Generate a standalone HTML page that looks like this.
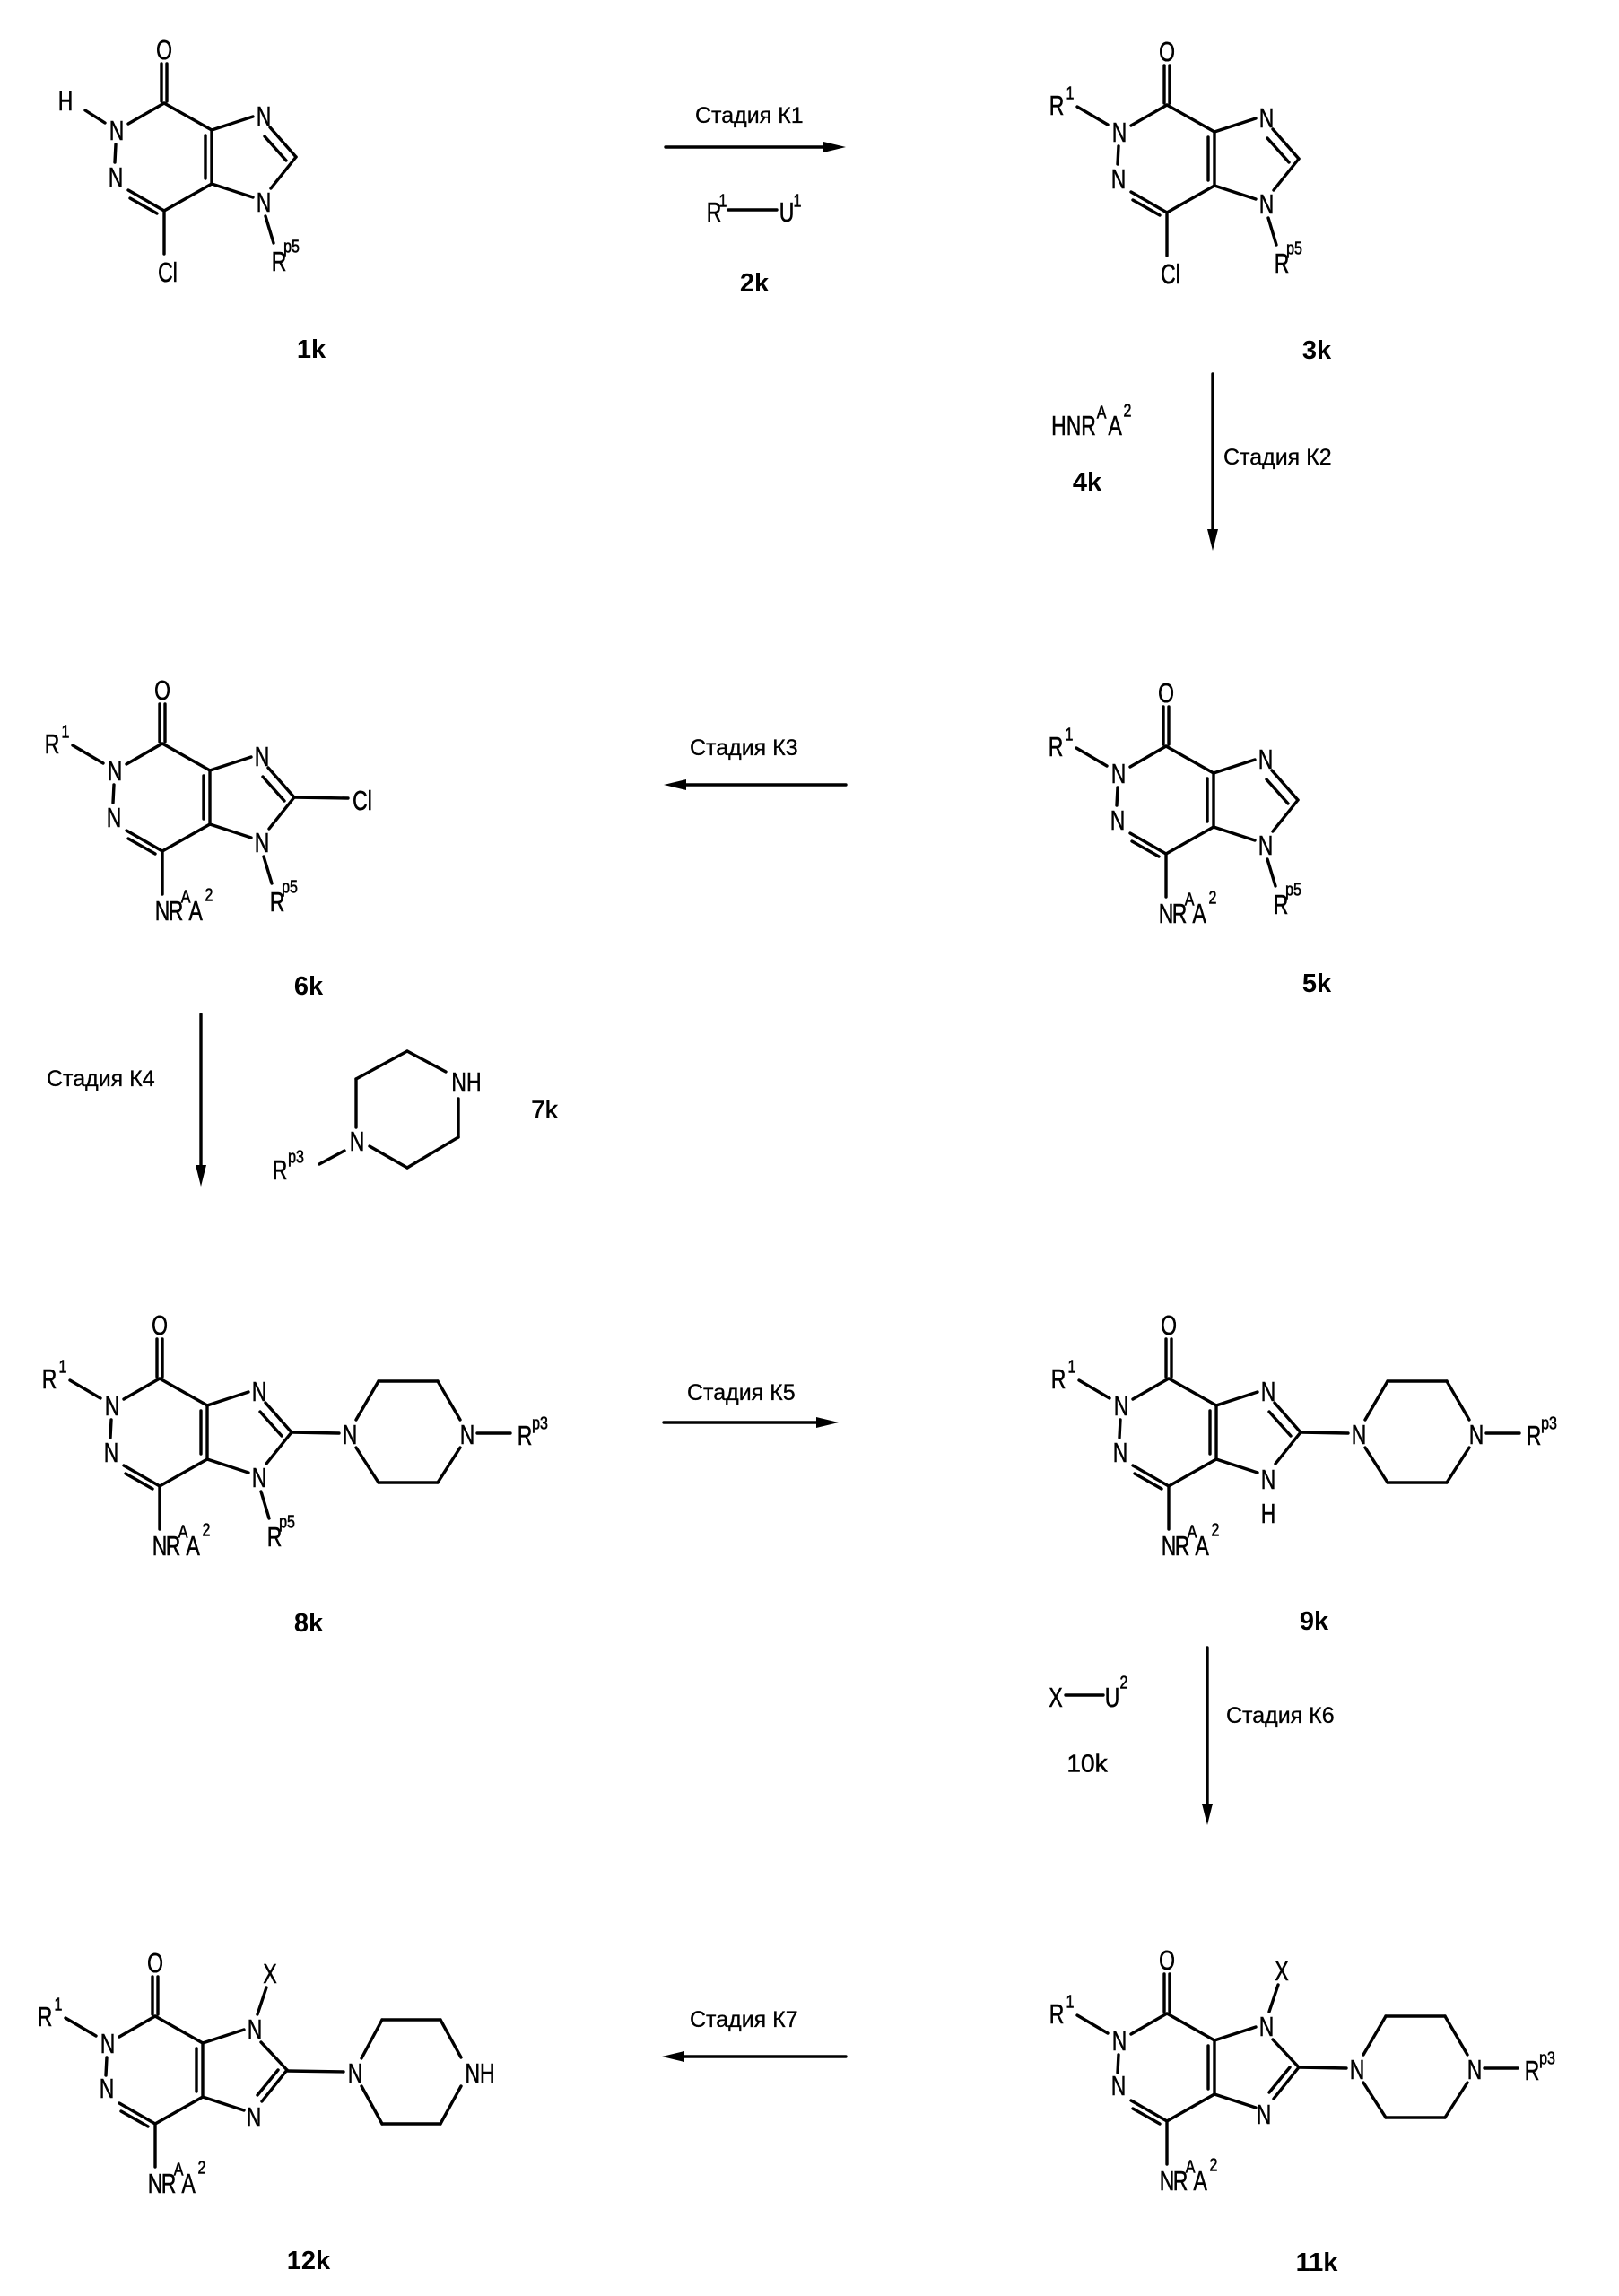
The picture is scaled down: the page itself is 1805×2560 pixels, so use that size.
<!DOCTYPE html>
<html><head><meta charset="utf-8"><style>
html,body{margin:0;padding:0;background:#fff;}
svg{display:block;}
text{font-family:"Liberation Sans",sans-serif;fill:#000;stroke:#000;stroke-width:0.6px;}
.a{font-size:31px;dominant-baseline:central;text-anchor:middle;transform-box:fill-box;transform-origin:center;transform:scaleX(0.74);}
.s{font-size:20px;dominant-baseline:central;text-anchor:middle;transform-box:fill-box;transform-origin:center;transform:scaleX(0.8);}
.lab{font-size:29px;font-weight:bold;dominant-baseline:central;text-anchor:middle;stroke-width:0;}
.reg{font-size:28px;dominant-baseline:central;text-anchor:middle;}
.st{font-size:25px;dominant-baseline:central;text-anchor:start;stroke-width:0.3px;}
line,polyline,path{stroke:#000;stroke-width:3.4;fill:none;stroke-linecap:round;}
.ah{fill:#000;stroke:none;}
</style></head><body>
<svg width="1805" height="2560" viewBox="0 0 1805 2560" xmlns="http://www.w3.org/2000/svg">

<!-- ============ 1k ============ -->
<g transform="translate(183,115)">
<text class="a" x="0" y="-60">O</text>
<line x1="-3" y1="-2" x2="-3" y2="-44"/><line x1="3" y1="-2" x2="3" y2="-44"/>
<line x1="0" y1="0" x2="-40" y2="23"/>
<text class="a" x="-53" y="30">N</text>
<line x1="-54" y1="46" x2="-55" y2="66"/>
<text class="a" x="-54" y="82">N</text>
<line x1="-40" y1="97" x2="0" y2="120"/><line x1="-38" y1="106" x2="-8" y2="123"/>
<line x1="0" y1="120" x2="53" y2="90"/>
<line x1="53" y1="90" x2="53" y2="30"/><line x1="46" y1="84" x2="46" y2="36"/>
<line x1="53" y1="30" x2="0" y2="0"/>
<line x1="53" y1="30" x2="99" y2="15"/>
<line x1="53" y1="90" x2="99" y2="105"/>
<text class="a" x="111" y="14">N</text>
<text class="a" x="111" y="110">N</text>
<line x1="118" y1="27" x2="147" y2="60"/><line x1="112" y1="37" x2="136" y2="64"/>
<line x1="147" y1="60" x2="119" y2="95"/>
<line x1="113" y1="126" x2="122" y2="156"/>
<text class="a" x="128" y="176">R</text><text class="s" x="142" y="160">p5</text>
<line x1="0" y1="120" x2="0" y2="168"/>
<text class="a" x="4" y="188">Cl</text>
<line x1="-66" y1="22" x2="-88" y2="8"/>
<text class="a" x="-110" y="-3">H</text>
</g>
<text class="lab" x="347" y="390">1k</text>

<!-- K1 -->
<text class="st" x="775" y="129">Стадия К1</text>
<line x1="742" y1="164" x2="925" y2="164"/>
<path class="ah" d="M943,164 L918,158 L918,170 Z"/>
<text class="a" x="796" y="236">R</text><text class="s" x="806" y="224">1</text>
<line x1="812" y1="234" x2="866" y2="234"/>
<text class="a" x="877" y="236">U</text><text class="s" x="889" y="224">1</text>
<text class="lab" x="841" y="316">2k</text>

<!-- ============ 3k ============ -->
<g transform="translate(1301,117)">
<text class="a" x="0" y="-60">O</text>
<line x1="-3" y1="-2" x2="-3" y2="-44"/><line x1="3" y1="-2" x2="3" y2="-44"/>
<line x1="0" y1="0" x2="-40" y2="23"/>
<text class="a" x="-53" y="30">N</text>
<line x1="-54" y1="46" x2="-55" y2="66"/>
<text class="a" x="-54" y="82">N</text>
<line x1="-40" y1="97" x2="0" y2="120"/><line x1="-38" y1="106" x2="-8" y2="123"/>
<line x1="0" y1="120" x2="53" y2="90"/>
<line x1="53" y1="90" x2="53" y2="30"/><line x1="46" y1="84" x2="46" y2="36"/>
<line x1="53" y1="30" x2="0" y2="0"/>
<line x1="53" y1="30" x2="99" y2="15"/>
<line x1="53" y1="90" x2="99" y2="105"/>
<text class="a" x="111" y="14">N</text>
<text class="a" x="111" y="110">N</text>
<line x1="118" y1="27" x2="147" y2="60"/><line x1="112" y1="37" x2="136" y2="64"/>
<line x1="147" y1="60" x2="119" y2="95"/>
<line x1="113" y1="126" x2="122" y2="156"/>
<text class="a" x="128" y="176">R</text><text class="s" x="142" y="160">p5</text>
<line x1="0" y1="120" x2="0" y2="168"/>
<text class="a" x="4" y="188">Cl</text>
<line x1="-66" y1="22" x2="-100" y2="2"/>
<text class="a" x="-123" y="0">R</text><text class="s" x="-108" y="-13">1</text>
</g>
<text class="lab" x="1468" y="391">3k</text>

<!-- K2 -->
<line x1="1352" y1="417" x2="1352" y2="595"/>
<path class="ah" d="M1352,614 L1346,590 L1358,590 Z"/>
<text class="st" x="1364" y="510">Стадия К2</text>
<text class="a" x="1197" y="474">HNR</text><text class="s" x="1228" y="460">A</text>
<text class="a" x="1243" y="474">A</text><text class="s" x="1257" y="458">2</text>
<text class="lab" x="1212" y="538">4k</text>

<!-- ============ 5k ============ -->
<g transform="translate(1300,832)">
<text class="a" x="0" y="-60">O</text>
<line x1="-3" y1="-2" x2="-3" y2="-44"/><line x1="3" y1="-2" x2="3" y2="-44"/>
<line x1="0" y1="0" x2="-40" y2="23"/>
<text class="a" x="-53" y="30">N</text>
<line x1="-54" y1="46" x2="-55" y2="66"/>
<text class="a" x="-54" y="82">N</text>
<line x1="-40" y1="97" x2="0" y2="120"/><line x1="-38" y1="106" x2="-8" y2="123"/>
<line x1="0" y1="120" x2="53" y2="90"/>
<line x1="53" y1="90" x2="53" y2="30"/><line x1="46" y1="84" x2="46" y2="36"/>
<line x1="53" y1="30" x2="0" y2="0"/>
<line x1="53" y1="30" x2="99" y2="15"/>
<line x1="53" y1="90" x2="99" y2="105"/>
<text class="a" x="111" y="14">N</text>
<text class="a" x="111" y="110">N</text>
<line x1="118" y1="27" x2="147" y2="60"/><line x1="112" y1="37" x2="136" y2="64"/>
<line x1="147" y1="60" x2="119" y2="95"/>
<line x1="113" y1="126" x2="122" y2="156"/>
<text class="a" x="128" y="176">R</text><text class="s" x="142" y="160">p5</text>
<line x1="0" y1="120" x2="0" y2="168"/>
<text class="a" x="0" y="186">N</text><text class="a" x="15" y="186">R</text><text class="s" x="26" y="171">A</text>
<text class="a" x="37" y="186">A</text><text class="s" x="52" y="169">2</text>
<line x1="-66" y1="22" x2="-100" y2="2"/>
<text class="a" x="-123" y="0">R</text><text class="s" x="-108" y="-13">1</text>
</g>
<text class="lab" x="1468" y="1097">5k</text>

<!-- K3 -->
<text class="st" x="769" y="834">Стадия К3</text>
<line x1="760" y1="875" x2="943" y2="875"/>
<path class="ah" d="M740,875 L765,869 L765,881 Z"/>

<!-- ============ 6k ============ -->
<g transform="translate(181,829)">
<text class="a" x="0" y="-60">O</text>
<line x1="-3" y1="-2" x2="-3" y2="-44"/><line x1="3" y1="-2" x2="3" y2="-44"/>
<line x1="0" y1="0" x2="-40" y2="23"/>
<text class="a" x="-53" y="30">N</text>
<line x1="-54" y1="46" x2="-55" y2="66"/>
<text class="a" x="-54" y="82">N</text>
<line x1="-40" y1="97" x2="0" y2="120"/><line x1="-38" y1="106" x2="-8" y2="123"/>
<line x1="0" y1="120" x2="53" y2="90"/>
<line x1="53" y1="90" x2="53" y2="30"/><line x1="46" y1="84" x2="46" y2="36"/>
<line x1="53" y1="30" x2="0" y2="0"/>
<line x1="53" y1="30" x2="99" y2="15"/>
<line x1="53" y1="90" x2="99" y2="105"/>
<text class="a" x="111" y="14">N</text>
<text class="a" x="111" y="110">N</text>
<line x1="118" y1="27" x2="147" y2="60"/><line x1="112" y1="37" x2="136" y2="64"/>
<line x1="147" y1="60" x2="119" y2="95"/>
<line x1="113" y1="126" x2="122" y2="156"/>
<text class="a" x="128" y="176">R</text><text class="s" x="142" y="160">p5</text>
<line x1="0" y1="120" x2="0" y2="168"/>
<text class="a" x="0" y="186">N</text><text class="a" x="15" y="186">R</text><text class="s" x="26" y="171">A</text>
<text class="a" x="37" y="186">A</text><text class="s" x="52" y="169">2</text>
<line x1="-66" y1="22" x2="-100" y2="2"/>
<text class="a" x="-123" y="0">R</text><text class="s" x="-108" y="-13">1</text>
<line x1="147" y1="60" x2="207" y2="61"/>
<text class="a" x="223" y="63">Cl</text>
</g>
<text class="lab" x="344" y="1100">6k</text>

<!-- K4 -->
<line x1="224" y1="1131" x2="224" y2="1304"/>
<path class="ah" d="M224,1323 L218,1299 L230,1299 Z"/>
<text class="st" x="52" y="1203">Стадия К4</text>

<!-- 7k -->
<line x1="397" y1="1203" x2="454" y2="1172"/>
<line x1="454" y1="1172" x2="497" y2="1195"/>
<line x1="511" y1="1225" x2="511" y2="1268"/>
<line x1="511" y1="1268" x2="454" y2="1302"/>
<line x1="454" y1="1302" x2="412" y2="1278"/>
<line x1="397" y1="1257" x2="397" y2="1203"/>
<text class="a" x="398" y="1272">N</text>
<text class="a" x="520" y="1206">NH</text>
<line x1="384" y1="1283" x2="356" y2="1298"/>
<text class="a" x="312" y="1304">R</text><text class="s" x="330" y="1290">p3</text>
<text class="reg" x="607" y="1237">7k</text>

<!-- ============ 8k ============ -->
<g transform="translate(178,1537)">
<text class="a" x="0" y="-60">O</text>
<line x1="-3" y1="-2" x2="-3" y2="-44"/><line x1="3" y1="-2" x2="3" y2="-44"/>
<line x1="0" y1="0" x2="-40" y2="23"/>
<text class="a" x="-53" y="30">N</text>
<line x1="-54" y1="46" x2="-55" y2="66"/>
<text class="a" x="-54" y="82">N</text>
<line x1="-40" y1="97" x2="0" y2="120"/><line x1="-38" y1="106" x2="-8" y2="123"/>
<line x1="0" y1="120" x2="53" y2="90"/>
<line x1="53" y1="90" x2="53" y2="30"/><line x1="46" y1="84" x2="46" y2="36"/>
<line x1="53" y1="30" x2="0" y2="0"/>
<line x1="53" y1="30" x2="99" y2="15"/>
<line x1="53" y1="90" x2="99" y2="105"/>
<text class="a" x="111" y="14">N</text>
<text class="a" x="111" y="110">N</text>
<line x1="118" y1="27" x2="147" y2="60"/><line x1="112" y1="37" x2="136" y2="64"/>
<line x1="147" y1="60" x2="119" y2="95"/>
<line x1="113" y1="126" x2="122" y2="156"/>
<text class="a" x="128" y="176">R</text><text class="s" x="142" y="160">p5</text>
<line x1="0" y1="120" x2="0" y2="168"/>
<text class="a" x="0" y="186">N</text><text class="a" x="15" y="186">R</text><text class="s" x="26" y="171">A</text>
<text class="a" x="37" y="186">A</text><text class="s" x="52" y="169">2</text>
<line x1="-66" y1="22" x2="-100" y2="2"/>
<text class="a" x="-123" y="0">R</text><text class="s" x="-108" y="-13">1</text>
<line x1="147" y1="60" x2="200" y2="61"/>
<text class="a" x="212" y="62">N</text>
<line x1="219" y1="46" x2="244" y2="3"/><line x1="244" y1="3" x2="310" y2="3"/><line x1="310" y1="3" x2="335" y2="46"/>
<line x1="335" y1="77" x2="310" y2="116"/><line x1="310" y1="116" x2="244" y2="116"/><line x1="244" y1="116" x2="219" y2="77"/>
<text class="a" x="343" y="62">N</text>
<line x1="354" y1="61" x2="391" y2="61"/>
<text class="a" x="407" y="63">R</text><text class="s" x="424" y="50">p3</text>
</g>
<text class="lab" x="344" y="1810">8k</text>

<!-- K5 -->
<text class="st" x="766" y="1553">Стадия К5</text>
<line x1="740" y1="1586" x2="917" y2="1586"/>
<path class="ah" d="M935,1586 L910,1580 L910,1592 Z"/>

<!-- ============ 9k ============ -->
<g transform="translate(1303,1537)">
<text class="a" x="0" y="-60">O</text>
<line x1="-3" y1="-2" x2="-3" y2="-44"/><line x1="3" y1="-2" x2="3" y2="-44"/>
<line x1="0" y1="0" x2="-40" y2="23"/>
<text class="a" x="-53" y="30">N</text>
<line x1="-54" y1="46" x2="-55" y2="66"/>
<text class="a" x="-54" y="82">N</text>
<line x1="-40" y1="97" x2="0" y2="120"/><line x1="-38" y1="106" x2="-8" y2="123"/>
<line x1="0" y1="120" x2="53" y2="90"/>
<line x1="53" y1="90" x2="53" y2="30"/><line x1="46" y1="84" x2="46" y2="36"/>
<line x1="53" y1="30" x2="0" y2="0"/>
<line x1="53" y1="30" x2="99" y2="15"/>
<line x1="53" y1="90" x2="99" y2="105"/>
<text class="a" x="111" y="14">N</text>
<text class="a" x="111" y="112">N</text>
<text class="a" x="111" y="150">H</text>
<line x1="118" y1="27" x2="147" y2="60"/><line x1="112" y1="37" x2="136" y2="64"/>
<line x1="147" y1="60" x2="119" y2="95"/>
<line x1="0" y1="120" x2="0" y2="168"/>
<text class="a" x="0" y="186">N</text><text class="a" x="15" y="186">R</text><text class="s" x="26" y="171">A</text>
<text class="a" x="37" y="186">A</text><text class="s" x="52" y="169">2</text>
<line x1="-66" y1="22" x2="-100" y2="2"/>
<text class="a" x="-123" y="0">R</text><text class="s" x="-108" y="-13">1</text>
<line x1="147" y1="60" x2="200" y2="61"/>
<text class="a" x="212" y="62">N</text>
<line x1="219" y1="46" x2="244" y2="3"/><line x1="244" y1="3" x2="310" y2="3"/><line x1="310" y1="3" x2="335" y2="46"/>
<line x1="335" y1="77" x2="310" y2="116"/><line x1="310" y1="116" x2="244" y2="116"/><line x1="244" y1="116" x2="219" y2="77"/>
<text class="a" x="343" y="62">N</text>
<line x1="354" y1="61" x2="391" y2="61"/>
<text class="a" x="407" y="63">R</text><text class="s" x="424" y="50">p3</text>
</g>
<text class="lab" x="1465" y="1808">9k</text>

<!-- K6 -->
<line x1="1346" y1="1837" x2="1346" y2="2016"/>
<path class="ah" d="M1346,2035 L1340,2011 L1352,2011 Z"/>
<text class="st" x="1367" y="1913">Стадия К6</text>
<text class="a" x="1177" y="1892">X</text>
<line x1="1188" y1="1890" x2="1230" y2="1890"/>
<text class="a" x="1240" y="1892">U</text><text class="s" x="1253" y="1876">2</text>
<text class="reg" x="1212" y="1966">10k</text>

<!-- ============ 11k ============ -->
<g transform="translate(1301,2245)">
<text class="a" x="0" y="-60">O</text>
<line x1="-3" y1="-2" x2="-3" y2="-44"/><line x1="3" y1="-2" x2="3" y2="-44"/>
<line x1="0" y1="0" x2="-40" y2="23"/>
<text class="a" x="-53" y="30">N</text>
<line x1="-54" y1="46" x2="-55" y2="66"/>
<text class="a" x="-54" y="80">N</text>
<line x1="-40" y1="97" x2="0" y2="120"/><line x1="-38" y1="106" x2="-8" y2="123"/>
<line x1="0" y1="120" x2="53" y2="90"/>
<line x1="53" y1="90" x2="53" y2="30"/><line x1="46" y1="84" x2="46" y2="36"/>
<line x1="53" y1="30" x2="0" y2="0"/>
<line x1="53" y1="30" x2="99" y2="15"/>
<line x1="53" y1="90" x2="99" y2="105"/>
<text class="a" x="111" y="14">N</text>
<text class="a" x="108" y="112">N</text>
<line x1="114" y1="-2" x2="124" y2="-32"/>
<text class="a" x="128" y="-48">X</text>
<line x1="118" y1="29" x2="147" y2="60"/>
<line x1="147" y1="60" x2="119" y2="95"/><line x1="137" y1="60" x2="114" y2="88"/>
<line x1="0" y1="120" x2="0" y2="168"/>
<text class="a" x="0" y="186">N</text><text class="a" x="15" y="186">R</text><text class="s" x="26" y="171">A</text>
<text class="a" x="37" y="186">A</text><text class="s" x="52" y="169">2</text>
<line x1="-66" y1="22" x2="-100" y2="2"/>
<text class="a" x="-123" y="0">R</text><text class="s" x="-108" y="-13">1</text>
<line x1="147" y1="60" x2="200" y2="61"/>
<text class="a" x="212" y="62">N</text>
<line x1="219" y1="46" x2="244" y2="3"/><line x1="244" y1="3" x2="310" y2="3"/><line x1="310" y1="3" x2="335" y2="46"/>
<line x1="335" y1="77" x2="310" y2="116"/><line x1="310" y1="116" x2="244" y2="116"/><line x1="244" y1="116" x2="219" y2="77"/>
<text class="a" x="343" y="62">N</text>
<line x1="354" y1="61" x2="391" y2="61"/>
<text class="a" x="407" y="63">R</text><text class="s" x="424" y="50">p3</text>
</g>
<text class="lab" x="1468" y="2523">11k</text>

<!-- K7 -->
<text class="st" x="769" y="2252">Стадия К7</text>
<line x1="758" y1="2293" x2="943" y2="2293"/>
<path class="ah" d="M738,2293 L763,2287 L763,2299 Z"/>

<!-- ============ 12k ============ -->
<g transform="translate(173,2248)">
<text class="a" x="0" y="-60">O</text>
<line x1="-3" y1="-2" x2="-3" y2="-44"/><line x1="3" y1="-2" x2="3" y2="-44"/>
<line x1="0" y1="0" x2="-40" y2="23"/>
<text class="a" x="-53" y="30">N</text>
<line x1="-54" y1="46" x2="-55" y2="66"/>
<text class="a" x="-54" y="80">N</text>
<line x1="-40" y1="97" x2="0" y2="120"/><line x1="-38" y1="106" x2="-8" y2="123"/>
<line x1="0" y1="120" x2="53" y2="90"/>
<line x1="53" y1="90" x2="53" y2="30"/><line x1="46" y1="84" x2="46" y2="36"/>
<line x1="53" y1="30" x2="0" y2="0"/>
<line x1="53" y1="30" x2="99" y2="15"/>
<line x1="53" y1="90" x2="99" y2="105"/>
<text class="a" x="111" y="14">N</text>
<text class="a" x="110" y="112">N</text>
<line x1="114" y1="-2" x2="124" y2="-32"/>
<text class="a" x="128" y="-48">X</text>
<line x1="118" y1="29" x2="147" y2="60"/>
<line x1="147" y1="60" x2="119" y2="95"/><line x1="137" y1="60" x2="114" y2="88"/>
<line x1="0" y1="120" x2="0" y2="168"/>
<text class="a" x="0" y="186">N</text><text class="a" x="15" y="186">R</text><text class="s" x="26" y="171">A</text>
<text class="a" x="37" y="186">A</text><text class="s" x="52" y="169">2</text>
<line x1="-66" y1="22" x2="-100" y2="2"/>
<text class="a" x="-123" y="0">R</text><text class="s" x="-108" y="-13">1</text>
<line x1="147" y1="61" x2="210" y2="62"/>
<text class="a" x="223" y="63">N</text>
<line x1="230" y1="47" x2="253" y2="4"/><line x1="253" y1="4" x2="318" y2="4"/><line x1="318" y1="4" x2="341" y2="46"/>
<line x1="341" y1="78" x2="318" y2="120"/><line x1="318" y1="120" x2="253" y2="120"/><line x1="253" y1="120" x2="230" y2="78"/>
<text class="a" x="362" y="63">NH</text>
</g>
<text class="lab" x="344" y="2521">12k</text>

</svg>
</body></html>
